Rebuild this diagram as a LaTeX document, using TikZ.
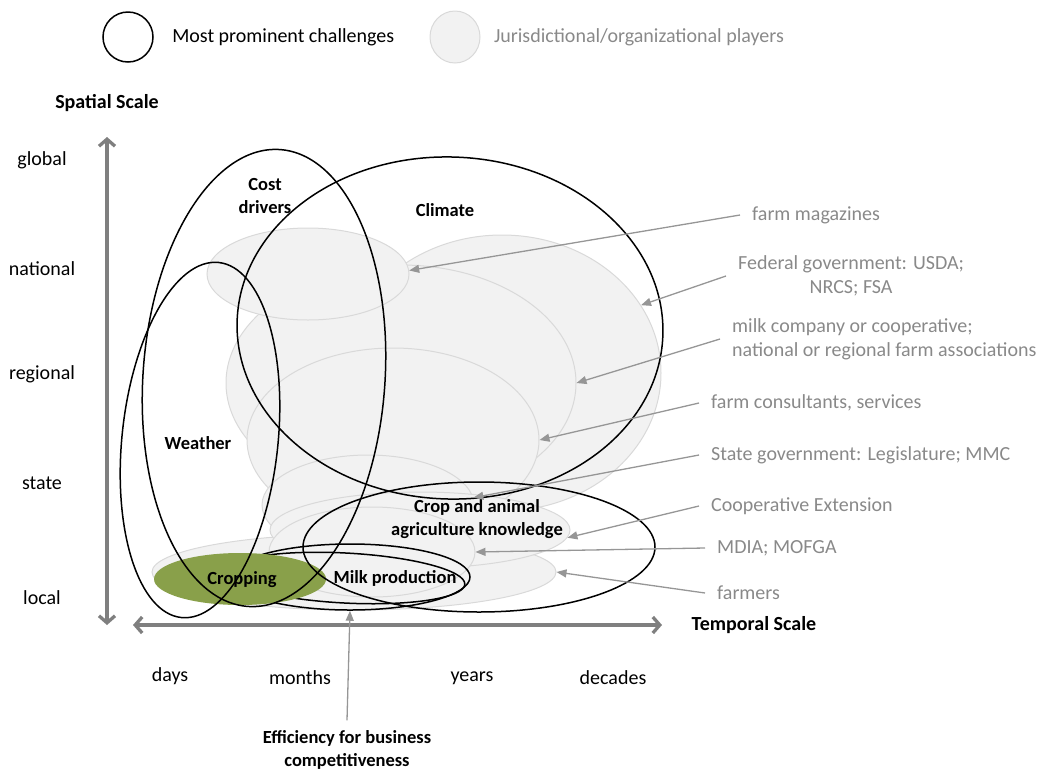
\documentclass[tikz,border=0pt]{standalone}
\usepackage{fontspec}
\setmainfont{Carlito}
\usepackage{tikz}
\usetikzlibrary{shapes.geometric,arrows.meta,positioning}

\definecolor{playerfill}{RGB}{242,242,242}
\definecolor{playerline}{RGB}{217,217,217}
\definecolor{playertext}{RGB}{137,137,137}
\definecolor{pointer}{RGB}{150,150,150}
\definecolor{axisgray}{RGB}{127,127,127}
\definecolor{cropgreen}{RGB}{137,160,74}

\tikzset{
  player/.style={draw=playerline, fill=playerfill, line width=1pt, shape=ellipse, inner sep=0pt},
  challenge/.style={draw=black, line width=1.5pt, shape=ellipse, inner sep=0pt},
  tag/.style={font=\fontsize{18.5}{23}\selectfont\bfseries, align=center, inner sep=0pt},
  who/.style={font=\fontsize{20}{24}\selectfont, text=playertext, align=left, anchor=west, inner xsep=12pt},
  scalelab/.style={font=\fontsize{20}{24}\selectfont},
  scaletitle/.style={font=\fontsize{20}{24}\selectfont\bfseries},
  pointto/.style={draw=pointer, line width=1.3pt, -{Triangle[length=10pt,width=8pt]}},
  axis/.style={draw=axisgray, line width=3.3pt, {Straight Barb[length=7pt,width=16pt]}-{Straight Barb[length=7pt,width=16pt]}}
}

\begin{document}
\begin{tikzpicture}[x=1pt,y=-1pt]
\useasboundingbox (0,0) rectangle (1042,772);

% legend
\node[challenge, minimum width=50pt, minimum height=50pt] (legc) at (128,37) {};
\node[scalelab, right=15pt of legc] (legct) {Most prominent challenges};
\node[player, minimum width=50pt, minimum height=52pt] (legp) at (455,37) {};
\node[scalelab, text=playertext, right=10pt of legp] (legpt) {Jurisdictional/organizational players};

% axes
\coordinate (ytop) at (107,137);
\coordinate (ybot) at (107,625);
\coordinate (xleft) at (133,625);
\coordinate (xright) at (662,625);
\draw[axis] (ybot) -- (ytop);
\draw[axis] (xleft) -- (xright);
\node[scaletitle] (spatial) at (107,103) {Spatial Scale};
\node[scaletitle] (temporal) at (754,625) {Temporal Scale};
\foreach \lvl/\y in {global/160, national/269, regional/374, state/483, local/598}
  \node[scalelab] (\lvl) at (42,\y) {\lvl};
\foreach \span/\x/\y in {days/170/676, months/300/678, years/472/678, decades/613/678}
  \node[scalelab] (\span) at (\x,\y) {\span};

% players
\node[player, minimum width=318pt, minimum height=276pt] (fed) at (502,373) {};
\node[player, minimum width=350pt, minimum height=236pt] (milkco) at (401,383) {};
\node[player, minimum width=292pt, minimum height=184pt] (consult) at (393,440) {};
\node[player, minimum width=212pt, minimum height=100pt] (stategov) at (368,505) {};
\node[player, minimum width=404pt, minimum height=76pt] (farmers) at (354,572) {};
\node[player, minimum width=300pt, minimum height=76pt] (coop) at (420,530) {};
\node[player, minimum width=206pt, minimum height=90pt] (mdia) at (372,552) {};
\node[player, minimum width=202pt, minimum height=92pt] (mag) at (308,274) {};

% challenges
\node[challenge, minimum width=240pt, minimum height=66pt] (eff) at (350,577) {};
\node[challenge, minimum width=240pt, minimum height=50pt, rotate=-3] (milk) at (345,578) {};
\node[shape=ellipse, fill=cropgreen, inner sep=0pt, minimum width=172pt, minimum height=52pt] (crop) at (240,579) {};
\node[challenge, minimum width=242pt, minimum height=458pt, rotate=-4] (cost) at (264,378) {};
\node[challenge, minimum width=156pt, minimum height=357pt, rotate=-6] (weather) at (200,440) {};
\node[challenge, minimum width=426pt, minimum height=342pt, rotate=-2] (climate) at (450,328) {};
\node[challenge, minimum width=352pt, minimum height=130pt] (knowl) at (479,547) {};

\node[tag] (costtag) at (265,196) {Cost\\drivers};
\node[tag] (climtag) at (445,210) {Climate};
\node[tag] (weathertag) at (198,443) {Weather};
\node[tag] (knowltag) at (477,519) {Crop and animal\\agriculture knowledge};
\node[tag] (milktag) at (395,578) {Milk production};
\node[tag] (croptag) at (242,580) {Cropping};
\node[tag] (efftag) at (347,750) {Efficiency for business\\competitiveness};
\draw[pointto] ([yshift=10pt]efftag.north) -- (eff.south);

% who acts where
\node[who] (magl) at (740,215) {farm magazines};
\node[who, align=center] (fedl) at (726,276) {Federal government: USDA;\\NRCS; FSA};
\node[who] (milkcol) at (720,339) {milk company or cooperative;\\national or regional farm associations};
\node[who] (consultl) at (699,403) {farm consultants, services};
\node[who] (statel) at (699,455) {State government: Legislature; MMC};
\node[who] (coopl) at (699,506) {Cooperative Extension};
\node[who] (mdial) at (705,548) {MDIA; MOFGA};
\node[who] (farmersl) at (705,593) {farmers};
\foreach \from/\to in {magl/mag.2, fedl/fed.26, milkcol/milkco.east, consultl/consult.east,
    statel/stategov.4, coopl/coop.-3, mdial/mdia.east, farmersl/farmers.east}
  \draw[pointto] (\from.west) -- (\to);
\end{tikzpicture}
\end{document}
